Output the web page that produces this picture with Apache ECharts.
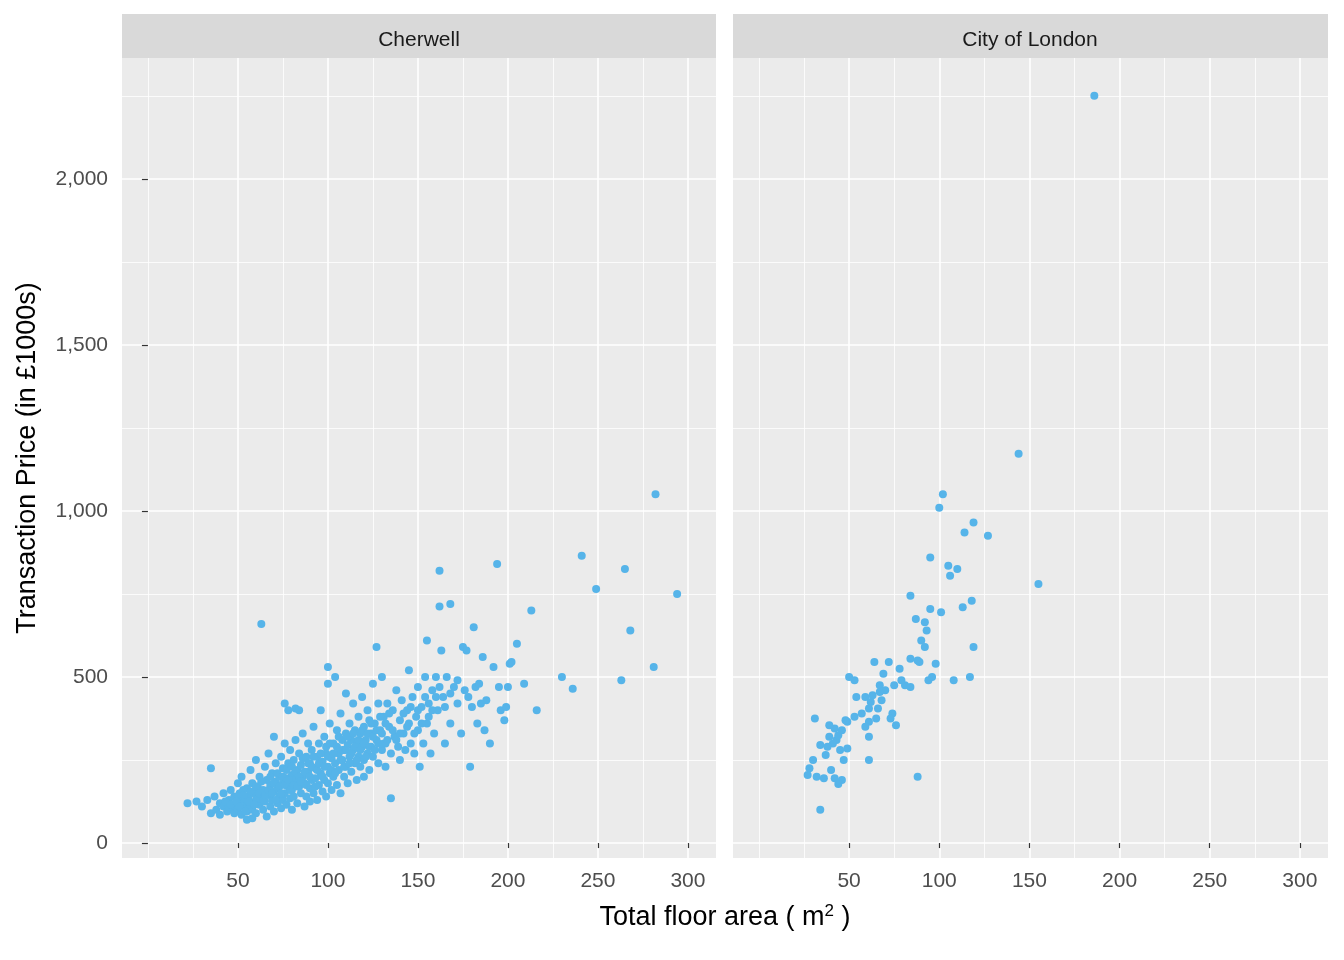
<!DOCTYPE html>
<html>
<head>
<meta charset="utf-8">
<script src="https://cdn.jsdelivr.net/npm/echarts@6/dist/echarts.min.js"></script>
<style>html,body{margin:0;padding:0;background:#fff}#chart{width:1344px;height:960px}</style>
</head>
<body>
<div id="chart"></div>
<script>
var panels = ['Cherwell', 'City of London'];
var xMajor = [50, 100, 150, 200, 250, 300];
var xMinor = [0, 25, 75, 125, 175, 225, 275];
var yMajor = [0, 500, 1000, 1500, 2000];
var yMinor = [250, 750, 1250, 1750, 2250];

var cherwell = [
 [22,120],[27,125],[30,110],[33,130],[35,90],[35,225],[37,140],[38,100],[40,120],[40,85],[42,150],[42,110],[44,95],[45,130],[46,160],[47,105],
 [48,90],[48,140],[50,120],[50,180],[50,100],[51,150],[52,85],[52,200],[53,130],[54,110],[55,165],[55,95],[56,140],[57,220],[57,120],[58,180],[58,100],[59,150],[60,130],[60,90],[60,250],[61,170],[62,115],[62,200],[63,140],[63,660],[64,100],[64,160],[65,230],[65,125],[66,190],[66,80],[55,70],[58,75],[45,110],[50,140],[53,160],[56,105],[61,135],
 [67,145],[67,270],[68,110],[68,175],[69,210],[69,130],[70,155],[70,95],[70,320],[71,185],[71,240],[72,120],[72,165],[73,200],[73,140],[74,260],[74,105],[75,180],[75,225],[75,130],[76,300],[76,150],[77,195],[77,115],[78,240],[78,170],[79,135],[79,280],[80,205],[80,160],[80,100],[78,400],[82,405],[84,400],[76,420],
 [81,250],[81,140],[82,190],[82,310],[83,220],[83,120],[84,170],[84,270],[85,150],[85,235],[86,200],[86,330],[87,180],[87,110],[88,260],[88,140],[89,215],[89,300],[90,165],[90,240],[90,125],[91,190],[91,280],[92,350],[92,150],[93,225],[93,195],[94,260],[94,130],[95,300],[95,175],[96,210],[96,400],[97,245],[97,155],[98,190],[98,320],[99,270],[99,140],[100,230],[100,180],[100,530],[100,480],[101,360],[101,210],
 [102,255],[102,160],[103,300],[103,200],[104,500],[104,240],[105,340],[105,175],[106,270],[106,220],[107,390],[107,150],[108,310],[108,250],[109,200],[109,280],[110,330],[110,230],[110,450],[111,180],[111,295],[112,260],[112,360],[113,215],[113,310],[114,420],[114,280],[115,240],[115,340],[116,190],[116,300],[117,380],[117,260],[118,230],[118,330],[119,290],[119,440],[120,350],[120,250],[120,200],[121,310],[122,400],[122,270],[123,220],[123,370],[124,330],[124,290],[125,480],[125,260],[126,360],[127,590],[127,310],[128,240],[128,420],
 [129,340],[130,280],[130,500],[131,380],[132,300],[132,230],[133,420],[134,350],[135,270],[135,135],[136,400],[137,320],[138,460],[139,290],[140,370],[140,250],[141,430],[142,330],[143,280],[144,400],[145,520],[145,360],[146,300],[147,440],[148,270],[149,380],[150,340],[150,470],[151,230],[152,410],[153,300],[154,500],[155,610],[155,360],[156,420],[157,270],[158,460],[159,330],[160,500],[161,400],[162,712],[162,820],[163,580],[164,440],[165,300],[166,500],[168,720],[168,360],
 [170,470],[172,420],[174,330],[175,590],[177,580],[178,440],[179,230],[181,650],[182,470],[183,360],[184,480],[186,560],[187,340],[188,430],[190,300],[192,530],[194,840],[195,470],[196,400],[198,370],[199,410],[200,470],[201,540],[202,545],[205,600],[209,480],[213,700],[216,400],[230,500],[236,465],[241,865],[249,765],[263,490],[265,825],[268,640],[281,530],[282,1050],[294,750],
 [43,125],[46,115],[49,125],[51,110],[53,145],[54,95],[56,125],[57,155],[59,115],[60,170],[62,150],[63,185],[64,130],[65,145],[67,160],[68,200],[69,150],[70,180],[71,130],[72,210],[73,170],[74,150],[75,200],[76,175],[77,220],[78,190],[79,160],[80,230],[81,175],[82,215],[83,170],[84,200],[85,185],[86,255],[87,215],[88,175],[89,240],[90,200],[91,230],[92,260],[93,170],[94,220],[95,240],[96,270],[97,200],[98,230],[99,290],[100,260],[101,300],[102,220],[103,270],[104,210],[105,290],[106,320],[107,250],[108,280],[109,230],[110,280],[111,320],[112,240],[113,270],[114,330],[115,290],[116,250],[117,310],[118,280],[119,340],[120,300],[121,260],[122,330],[123,290],[124,360],[125,320],[126,280],[127,340],[128,300],[129,380],[130,330],[131,300],[132,360],[133,310],[134,390],[136,340],[138,310],[140,330],[142,390],[144,350],[146,410],[148,330],[150,400],[152,360],[154,440],[156,380],[158,400],[160,440],[162,470],[165,410],[168,450],[172,490],[176,460],[180,410],[185,420]
];

var london = [
 [186,2250],[144,1172],[155,780],[102,1050],[100,1010],[119,965],[114,935],[127,925],[105,835],[110,825],[106,805],[95,860],[84,745],[118,730],[101,695],[95,705],[113,710],[87,675],[92,665],[93,640],[90,610],[119,590],[92,590],[84,555],[89,545],[98,540],[88,550],[64,545],[72,545],[78,525],[117,500],[108,490],[96,500],[94,490],[50,500],[53,490],[69,510],[67,475],[75,475],[81,475],[84,470],[54,440],[59,440],[62,425],[61,405],[66,405],[74,390],[65,375],[61,365],[59,350],[61,320],[49,365],[46,340],[43,310],[39,320],[34,295],[31,375],[37,265],[30,250],[28,225],[27,205],[49,285],[47,250],[40,220],[32,200],[36,195],[42,195],[46,190],[44,178],[34,100],[88,200],[61,250],[76,355],[73,375],[68,430],[70,460],[44,325],[42,345],[39,355],[53,380],[48,370],[57,390],[63,445],[67,455],[79,490],[41,300],[45,280],[38,290]
];

var font = 'Liberation Sans, Arial, sans-serif';
var grids = [
  {left: 122, top: 58, width: 594, height: 800, show: true, backgroundColor: '#ebebeb', borderWidth: 0},
  {left: 733, top: 58, width: 595, height: 800, show: true, backgroundColor: '#ebebeb', borderWidth: 0}
];

function xAx(g, vals, major) {
  return {
    type: 'value', gridIndex: g, min: -14.4, max: 315.6,
    axisLine: {show: false},
    axisTick: {show: major, length: 5, lineStyle: {color: '#333', width: 1.2}, customValues: vals},
    axisLabel: {show: major, customValues: vals, color: '#4d4d4d', fontSize: 21, fontFamily: font, margin: 13},
    splitLine: {show: true, lineStyle: {color: '#fff', width: major ? 1.6 : 0.8}}
  };
}
function yAx(g, vals, major, labels) {
  return {
    type: 'value', gridIndex: g, min: -45, max: 2364,
    axisLine: {show: false},
    axisTick: {show: major && labels, length: 6, lineStyle: {color: '#333', width: 1.2}, customValues: vals},
    axisLabel: {show: major && labels, customValues: vals, color: '#4d4d4d', fontSize: 21, fontFamily: font, margin: 14,
      formatter: function (v) { return v.toLocaleString('en-US'); }},
    splitLine: {show: true, lineStyle: {color: '#fff', width: major ? 1.6 : 0.8}}
  };
}

var myChart = echarts.init(document.getElementById('chart'));
var option = {
  animation: false,
  grid: grids,
  xAxis: [xAx(0, xMajor, true), xAx(0, xMinor, false), xAx(1, xMajor, true), xAx(1, xMinor, false)],
  yAxis: [yAx(0, yMajor, true, true), yAx(0, yMinor, false, false), yAx(1, yMajor, true, false), yAx(1, yMinor, false, false)],
  graphic: [
    {type: 'rect', left: 122, top: 14, shape: {width: 594, height: 44}, style: {fill: '#d9d9d9'}},
    {type: 'rect', left: 733, top: 14, shape: {width: 595, height: 44}, style: {fill: '#d9d9d9'}},
    {type: 'text', x: 419, y: 40, style: {text: panels[0], fill: '#1a1a1a', font: '21px ' + font, textAlign: 'center', textVerticalAlign: 'middle'}},
    {type: 'text', x: 1030, y: 40, style: {text: panels[1], fill: '#1a1a1a', font: '21px ' + font, textAlign: 'center', textVerticalAlign: 'middle'}},
    {type: 'text', x: 725, y: 918, style: {
      text: 'Total floor area ( m{s|2} )', fill: '#000', font: '27px ' + font, textAlign: 'center', textVerticalAlign: 'middle',
      rich: {s: {fontSize: 17, fontFamily: font, fill: '#000', verticalAlign: 'top', padding: [0, 0, 14, 0]}}}},
    {type: 'text', x: 28, y: 458, rotation: Math.PI / 2, style: {
      text: 'Transaction Price (in £1000s)', fill: '#000', font: '27px ' + font, textAlign: 'center', textVerticalAlign: 'middle'}}
  ],
  series: [
    {type: 'scatter', xAxisIndex: 0, yAxisIndex: 0, data: cherwell, symbolSize: 8, itemStyle: {color: '#56B4E9', opacity: 1}},
    {type: 'scatter', xAxisIndex: 2, yAxisIndex: 2, data: london, symbolSize: 8, itemStyle: {color: '#56B4E9', opacity: 1}}
  ]
};
myChart.setOption(option);
</script>
</body>
</html>
